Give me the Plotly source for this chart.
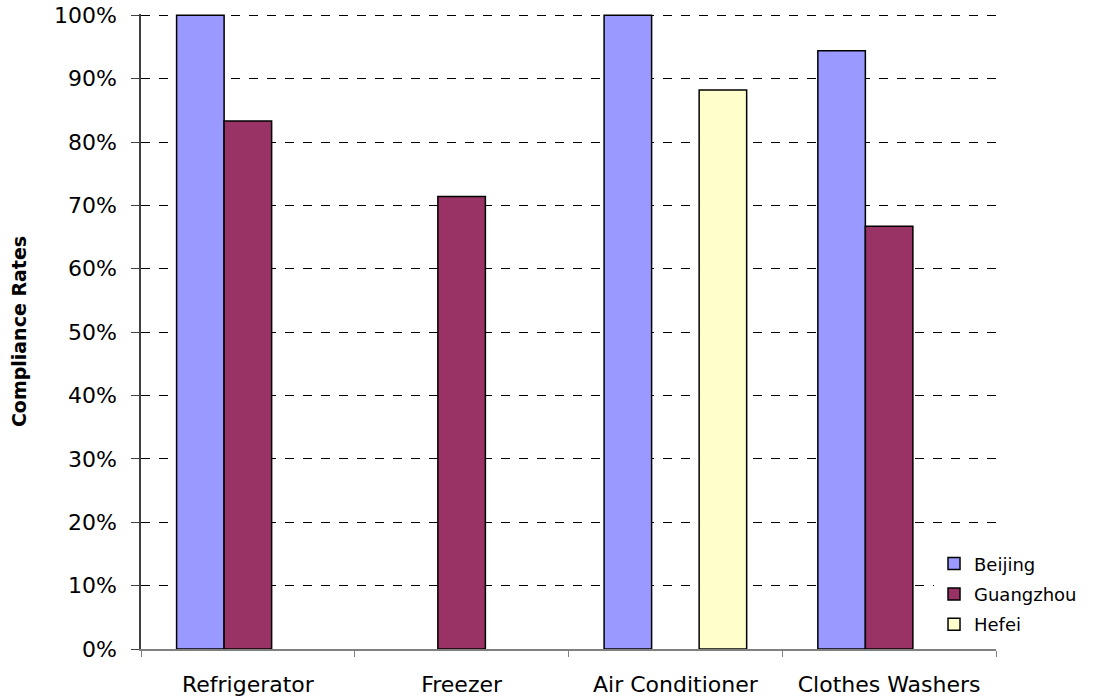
import plotly.graph_objects as go

categories = ["Refrigerator", "Freezer", "Air Conditioner", "Clothes Washers"]
beijing = [1.00, None, 1.00, 0.944]
guangzhou = [0.833, 0.714, None, 0.667]
hefei = [None, None, 0.882, None]
series_names = ["Beijing", "Guangzhou", "Hefei"]
colors = ["#9999FF", "#993366", "#FFFFCC"]
y_ticks = [0, 0.1, 0.2, 0.3, 0.4, 0.5, 0.6, 0.7, 0.8, 0.9, 1.0]

FONT = "DejaVu Sans"

fig = go.Figure()
for i, (name, vals, col) in enumerate(zip(series_names, [beijing, guangzhou, hefei], colors)):
    fig.add_trace(go.Bar(
        x=categories, y=vals, name=name, legendgroup=name,
        marker=dict(color=col, line=dict(color="black", width=1.5)),
    ))

fig.update_layout(
    width=1095, height=698,
    paper_bgcolor="white", plot_bgcolor="white",
    barmode="group", bargap=0.333, bargroupgap=0,
    margin=dict(l=141, r=99, t=14, b=49, autoexpand=False),
    font=dict(family=FONT, color="black", size=22),
    showlegend=True,
    legend=dict(
        x=0.9275, xanchor="left", y=0.009, yanchor="bottom",
        xref="paper", yref="paper",
        font=dict(family=FONT, size=18, color="black"),
        bgcolor="white", itemwidth=30,
        traceorder="grouped", tracegroupgap=4,
    ),
    xaxis=dict(
        type="category", tickson="boundaries", ticks="outside", ticklen=6,
        tickcolor="#808080", showline=True, linecolor="#808080", linewidth=1.5,
        showgrid=False, ticklabelstandoff=15,
        tickfont=dict(family=FONT, size=22, color="black"),
    ),
    yaxis=dict(
        range=[0, 1.002], tickvals=y_ticks, tickformat=".0%",
        ticks="outside", ticklen=8, tickcolor="#404040",
        showline=True, linecolor="#404040", linewidth=1.5,
        showgrid=True, gridcolor="black", griddash="dash", gridwidth=1,
        zeroline=False, ticklabelstandoff=10,
        tickfont=dict(family=FONT, size=22, color="black"),
        title=dict(text="<b>Compliance Rates</b>", standoff=22,
                   font=dict(family=FONT, size=19, color="black")),
    ),
)

fig.write_html(
    "out.html",
    config={"displayModeBar": False},
    post_script="document.body.style.margin='0';document.body.style.overflow='hidden';",
)
